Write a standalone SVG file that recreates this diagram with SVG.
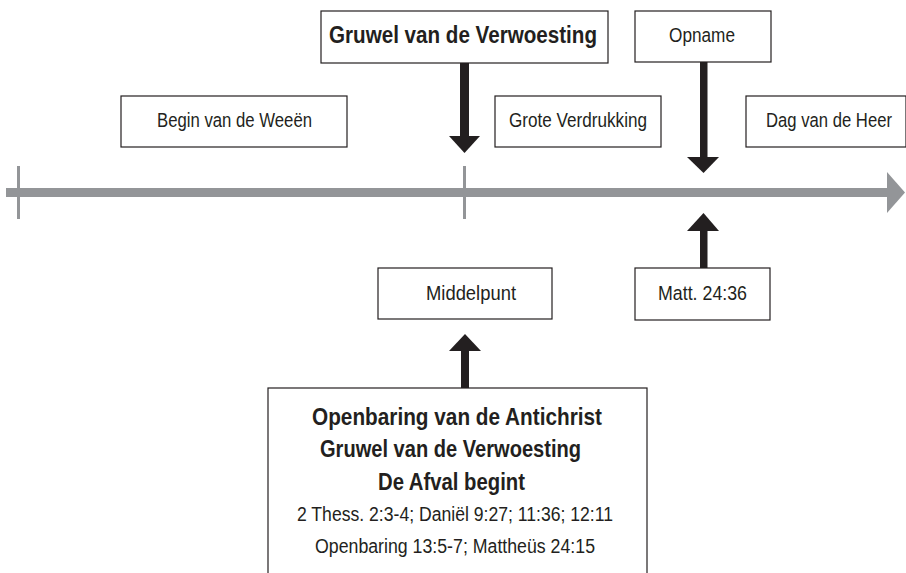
<svg xmlns="http://www.w3.org/2000/svg" width="906" height="573" viewBox="0 0 906 573">
<style>
.box{fill:#ffffff;stroke:#231f20;stroke-width:1.2}
.t{font-family:"Liberation Sans",Arial,sans-serif;font-size:20.5px;fill:#231f20;text-anchor:middle}
.b{font-family:"Liberation Sans",Arial,sans-serif;font-size:23px;font-weight:bold;fill:#231f20;text-anchor:middle}
.r{font-family:"Liberation Sans",Arial,sans-serif;font-size:20px;fill:#231f20;text-anchor:middle}
.arr{fill:#231f20}
.line{fill:#939598}
</style>
<rect width="906" height="573" fill="#ffffff"/>
<g id="timeline">
<rect class="line" x="6" y="188" width="882" height="9"/>
<polygon class="line" points="887,172 887,213 905,192.5"/>
<rect class="line" x="17" y="166" width="3" height="53"/>
<rect class="line" x="463" y="166" width="3" height="53"/>
</g>
<g id="connectors">
<rect class="arr" x="460" y="62" width="9" height="76"/>
<polygon class="arr" points="449,136 480,136 464.5,153"/>
<rect class="arr" x="700" y="61" width="7.5" height="98"/>
<polygon class="arr" points="687,157 719,157 703.5,173"/>
<rect class="arr" x="700" y="229" width="7.5" height="40"/>
<polygon class="arr" points="687,231 719,231 703.5,213"/>
<rect class="arr" x="461" y="349" width="8" height="40"/>
<polygon class="arr" points="449,351 481,351 465,334"/>
</g>
<g id="gruwel">
<rect class="box" x="321" y="11" width="287" height="52"/>
<text class="b" x="463" y="43" textLength="268" lengthAdjust="spacingAndGlyphs">Gruwel van de Verwoesting</text>
</g>
<g id="opname">
<rect class="box" x="635" y="11" width="136" height="51"/>
<text class="t" x="702" y="42" textLength="66" lengthAdjust="spacingAndGlyphs">Opname</text>
</g>
<g id="begin">
<rect class="box" x="121" y="96" width="226" height="51"/>
<text class="t" x="234.5" y="127" textLength="155" lengthAdjust="spacingAndGlyphs">Begin van de Weeën</text>
</g>
<g id="grote">
<rect class="box" x="495" y="96" width="166" height="51"/>
<text class="t" x="578" y="127" textLength="138" lengthAdjust="spacingAndGlyphs">Grote Verdrukking</text>
</g>
<g id="dag">
<rect class="box" x="746" y="96" width="160" height="51"/>
<text class="t" x="829" y="127" textLength="126" lengthAdjust="spacingAndGlyphs">Dag van de Heer</text>
</g>
<g id="middelpunt">
<rect class="box" x="378" y="268" width="174" height="51"/>
<text class="t" x="471" y="300" textLength="90" lengthAdjust="spacingAndGlyphs">Middelpunt</text>
</g>
<g id="matt">
<rect class="box" x="635" y="268" width="135" height="52"/>
<text class="t" x="702.5" y="300" textLength="89" lengthAdjust="spacingAndGlyphs">Matt. 24:36</text>
</g>
<g id="antichrist">
<rect class="box" x="268" y="388" width="379" height="195"/>
<text class="b" style="font-size:24px" x="457" y="425" textLength="290" lengthAdjust="spacingAndGlyphs">Openbaring van de Antichrist</text>
<text class="b" style="font-size:24px" x="450.5" y="457" textLength="261" lengthAdjust="spacingAndGlyphs">Gruwel van de Verwoesting</text>
<text class="b" style="font-size:24px" x="451.5" y="490" textLength="147" lengthAdjust="spacingAndGlyphs">De Afval begint</text>
<text class="r" x="455" y="521" textLength="316" lengthAdjust="spacingAndGlyphs">2 Thess. 2:3-4; Daniël 9:27; 11:36; 12:11</text>
<text class="r" x="455" y="553" textLength="280" lengthAdjust="spacingAndGlyphs">Openbaring 13:5-7; Mattheüs 24:15</text>
</g>
</svg>
